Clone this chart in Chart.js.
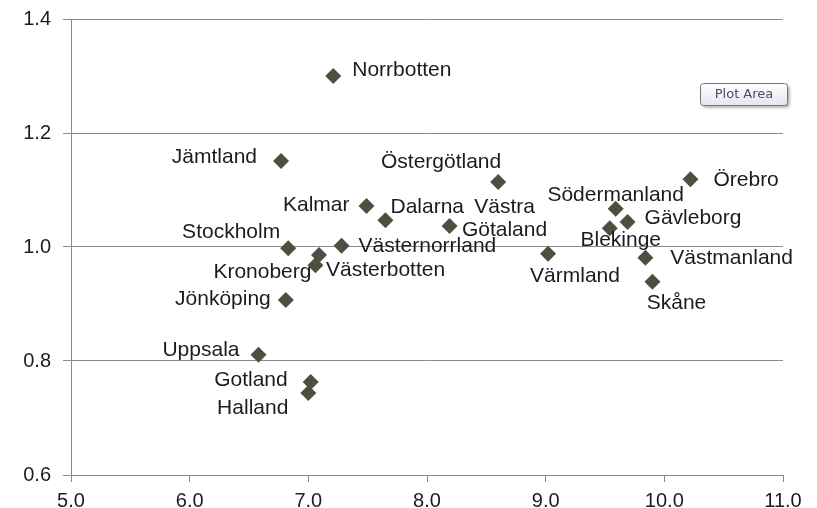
<!DOCTYPE html>
<html>
<head>
<meta charset="utf-8">
<script src="https://cdn.jsdelivr.net/npm/chart.js@4.4.0/dist/chart.umd.min.js"></script>
<style>
	html, body { margin:0; padding:0; background:#fff; }
	#wrap { width:817px; height:508px; }
</style>
</head>
<body>
<div id="wrap"><canvas id="scatter-chart" width="817" height="508"></canvas></div>
<script>
// regions (län) with their x / y values
var regions = ['Norrbotten','Jämtland','Östergötland','Örebro','Kalmar','Dalarna','Västra Götaland',
	'Södermanland','Gävleborg','Blekinge','Stockholm','Västernorrland','Västerbotten','Kronoberg',
	'Jönköping','Värmland','Västmanland','Skåne','Uppsala','Gotland','Halland'];
var xValues = [7.21, 6.77, 8.60, 10.22, 7.49, 7.65, 8.19,
	9.59, 9.69, 9.54, 6.83, 7.28, 7.09, 7.06,
	6.81, 9.02, 9.84, 9.90, 6.58, 7.02, 7.00];
var yValues = [1.30, 1.151, 1.114, 1.119, 1.072, 1.047, 1.037,
	1.067, 1.044, 1.033, 0.998, 1.002, 0.986, 0.968,
	0.907, 0.988, 0.981, 0.939, 0.811, 0.763, 0.744];
var xTicks = [5, 6, 7, 8, 9, 10, 11];
var yTicks = [0.6, 0.8, 1.0, 1.2, 1.4];

// where each data label sits next to its marker (align, dx, dy)
var labelPlace = [
	['left',19,-6], ['right',-24,-4], ['right',3,-20], ['left',23,1], ['right',-17,-1], ['left',5,-13], ['wrap',55,-7],
	['center',0,-14], ['left',17,-4], ['center',11,12], ['right',-8,-16], ['left',17,0], ['left',7,15], ['right',-4,7],
	['right',-15,-1], ['center',27,22], ['left',25,0], ['center',24,21], ['right',-19,-5], ['right',-23,-2], ['right',-20,15]
];

var points = [];
for (var i = 0; i < regions.length; i++) {
	points.push({x:xValues[i], y:yValues[i]});
}

var dataLabels = {
	id:'dataLabels',
	afterDatasetsDraw:function(chart){
		var ctx = chart.ctx;
		var meta = chart.getDatasetMeta(0);
		ctx.save();
		ctx.font = '21px "Liberation Sans", Arial, sans-serif';
		ctx.fillStyle = '#1c1c1c';
		ctx.textBaseline = 'middle';
		meta.data.forEach(function(el, i){
			var p = labelPlace[i];
			var x = el.x + p[1], y = el.y + p[2];
			if (p[0] == 'wrap') {
				var lines = regions[i].split(' ');
				ctx.textAlign = 'center';
				for (var k = 0; k < lines.length; k++) {
					ctx.fillText(lines[k], x, y + (k - (lines.length-1)/2) * 23);
				}
			} else {
				ctx.textAlign = p[0];
				ctx.fillText(regions[i], x, y);
			}
		});
		ctx.restore();
	}
};

// the little "Plot Area" hover box seen in the original screenshot
var plotAreaTip = {
	id:'plotAreaTip',
	afterDraw:function(chart){
		var ctx = chart.ctx;
		ctx.save();
		ctx.shadowColor = 'rgba(0,0,0,0.35)';
		ctx.shadowOffsetX = 2;
		ctx.shadowOffsetY = 2;
		ctx.shadowBlur = 3;
		var g = ctx.createLinearGradient(0, 83, 0, 106);
		g.addColorStop(0, '#ffffff');
		g.addColorStop(1, '#e4e5f0');
		ctx.fillStyle = g;
		ctx.beginPath();
		ctx.roundRect(700.5, 83.5, 87, 22, 3);
		ctx.fill();
		ctx.shadowColor = 'transparent';
		ctx.strokeStyle = '#767676';
		ctx.lineWidth = 1;
		ctx.stroke();
		ctx.fillStyle = '#4c4c5c';
		ctx.font = '13px "DejaVu Sans", sans-serif';
		ctx.textAlign = 'center';
		ctx.textBaseline = 'middle';
		ctx.fillText('Plot Area', 744, 95);
		ctx.restore();
	}
};

var ctx = document.getElementById('scatter-chart');
new Chart(ctx, {
	type:'scatter',
	data:{
		datasets:[{
			data:points,
			pointStyle:'rectRot',
			pointRadius:8,
			pointHoverRadius:8,
			backgroundColor:'#4f4f3f',
			borderColor:'#4f4f3f',
			borderWidth:0
		}]
	},
	options:{
		responsive:false,
		animation:false,
		events:[],
		layout:{padding:{left:0, right:34, top:19, bottom:0}},
		plugins:{legend:{display:false}, tooltip:{enabled:false}},
		scales:{
			x:{
				type:'linear', min:5, max:11,
				afterBuildTicks:function(s){ s.ticks = xTicks.map(function(v){ return {value:v}; }); },
				afterFit:function(s){ s.height = 33; s.paddingLeft = 0; s.paddingRight = 0; },
				ticks:{
					color:'#1c1c1c', padding:7, maxRotation:0,
					font:{family:'"Liberation Sans", Arial, sans-serif', size:20},
					callback:function(v){ return v.toFixed(1); }
				},
				grid:{drawOnChartArea:false, drawTicks:true, tickLength:7, color:'#8a8a8a'},
				border:{color:'#8a8a8a'}
			},
			y:{
				type:'linear', min:0.6, max:1.4,
				afterBuildTicks:function(s){ s.ticks = yTicks.map(function(v){ return {value:v}; }); },
				afterFit:function(s){ s.width = 71; s.paddingTop = 0; s.paddingBottom = 0; },
				ticks:{
					color:'#1c1c1c', padding:12,
					font:{family:'"Liberation Sans", Arial, sans-serif', size:20},
					callback:function(v){ return v.toFixed(1); }
				},
				grid:{color:'#8a8a8a', tickLength:8},
				border:{color:'#8a8a8a'}
			}
		}
	},
	plugins:[dataLabels, plotAreaTip]
});
</script>
</body>
</html>
